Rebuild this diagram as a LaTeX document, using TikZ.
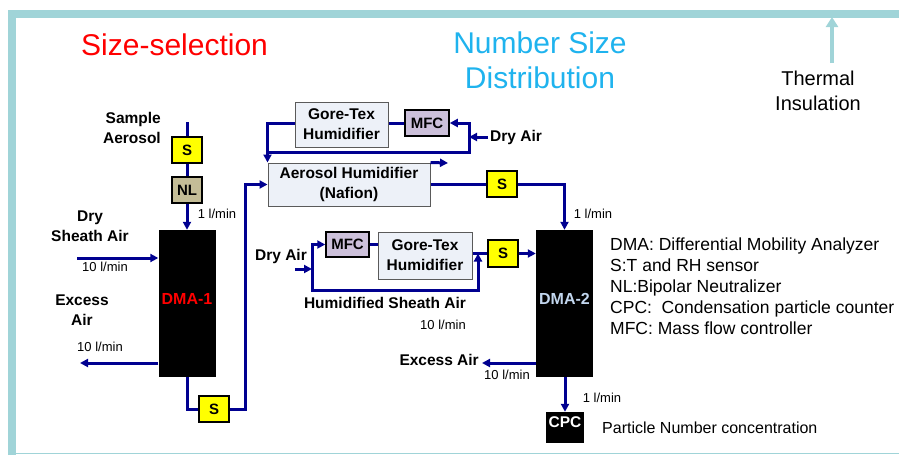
\documentclass[tikz,border=0pt]{standalone}
\usepackage{fontspec}
\setmainfont{Liberation Sans}
\usetikzlibrary{arrows.meta,positioning}
\definecolor{AeroNavy}{HTML}{000090}
\definecolor{AeroTeal}{HTML}{A0D4D8}
\definecolor{AeroYellow}{HTML}{FFFF00}
\definecolor{AeroTan}{HTML}{C4BD97}
\definecolor{AeroLilac}{HTML}{CCC0DA}
\definecolor{AeroPanel}{HTML}{EDF1F8}
\definecolor{AeroEdge}{HTML}{5A5A5A}
\definecolor{AeroRed}{HTML}{FF0000}
\definecolor{AeroSky}{HTML}{1FB3EE}
\definecolor{AeroPale}{HTML}{C2D6EE}
\tikzset{
  aero pipe/.style={draw=AeroNavy,line width=3pt},
  aero flow/.style={aero pipe,-{Triangle[length=8pt,width=8pt]}},
  aero insulation/.style={draw=AeroTeal,line width=4pt,-{Triangle[length=10pt,width=12pt]}},
  aero sensor/.style={
    draw=black,
    line width=1.5pt,
    fill=AeroYellow,
    minimum width=30pt,
    minimum height=26pt,
    inner sep=0pt,
    font=\fontsize{15}{17}\selectfont\bfseries
  },
  aero neutralizer/.style={aero sensor,fill=AeroTan},
  aero mfc/.style={aero sensor,fill=AeroLilac,minimum width=44pt},
  aero humidifier/.style={
    draw=AeroEdge,
    line width=1pt,
    fill=AeroPanel,
    align=center,
    inner sep=0pt,
    font=\fontsize{15.5}{20}\selectfont\bfseries
  },
  aero dma/.style={
    fill=black,
    minimum width=57pt,
    minimum height=147pt,
    inner sep=0pt,
    text height=12pt,
    text depth=10pt,
    font=\fontsize{16}{18}\selectfont\bfseries
  },
  aero cpc/.style={
    fill=black,
    text=white,
    minimum width=38pt,
    minimum height=31pt,
    inner sep=0pt,
    text height=11pt,
    text depth=11pt,
    font=\fontsize{15.5}{17}\selectfont\bfseries
  },
  aero tag/.style={inner sep=0pt,align=center,font=\fontsize{15.5}{20}\selectfont\bfseries},
  aero rate/.style={inner sep=0pt,font=\fontsize{13}{15}\selectfont},
  aero title/.style={inner sep=0pt,align=center,font=\fontsize{30}{35}\selectfont}
}

\begin{document}
\begin{tikzpicture}[x=1pt,y=-1pt]
  \useasboundingbox (0,0) rectangle (899,455);
  % frame
  \draw[AeroTeal,line width=8pt] (12,455) -- (12,13.5) -- (899,13.5);
  \draw[AeroTeal,line width=1.5pt] (8,453.5) -- (899,453.5);

  \node[aero title,text=AeroRed,anchor=west] (sizesel) at (81,45) {Size-selection};
  \node[aero title,text=AeroSky] (nsd) at (540,60) {Number Size\\Distribution};
  \node[inner sep=0pt,align=center,font=\fontsize{20}{25}\selectfont] (insul) at (818,91) {Thermal\\Insulation};
  \coordinate (insultail) at (832,63);
  \coordinate (insulhead) at (832,17);
  \draw[aero insulation] (insultail) -- (insulhead);

  % size-selection branch
  \node[aero tag,align=right,anchor=east] (sample) at (161,128) {Sample\\Aerosol};
  \node[aero sensor] (s1) at (187,150) {S};
  \node[aero neutralizer] (nl) at (187,190) {NL};
  \node[aero dma,text=AeroRed] (dma1) at (187,303.5) {DMA-1};
  \node[aero tag] (drysheath) at (90,226) {Dry\\Sheath Air};
  \node[aero tag] (excessa) at (82,310) {Excess\\Air};
  \node[aero sensor] (s2) at (214,409) {S};
  \node[aero rate] (r1) at (217,214) {1 l/min};
  \node[aero rate] (r2) at (105,267) {10 l/min};
  \node[aero rate] (r3) at (100,347) {10 l/min};

  \coordinate (samplein) at (187,122);
  \coordinate (sheathin) at (77,258);
  \coordinate (excess1) at (80,363);
  \coordinate (riser) at (245,410);
  \draw[aero pipe] (samplein) -- (s1);
  \draw[aero pipe] (s1) -- (nl);
  \draw[aero flow] (nl.south) -- (nl.south |- dma1.north);
  \draw[aero flow] (sheathin) -- (sheathin -| dma1.west);
  \draw[aero flow] (excess1 -| dma1.west) -- (excess1);
  \draw[aero pipe] (dma1.south) |- (s2.west);

  % humidifiers
  \node[aero humidifier,minimum width=162pt,minimum height=43pt] (ahum) at (349,184.5) {Aerosol Humidifier\\(Nafion)};
  \node[aero humidifier,minimum width=93pt,minimum height=45pt] (gtx1) at (341.5,124.5) {Gore-Tex\\Humidifier};
  \node[aero mfc] (mfc1) at (427,123) {MFC};
  \node[aero tag,anchor=west] (dryair1) at (490,137) {Dry Air};
  \node[aero sensor] (s3) at (502,184) {S};

  \coordinate (dry1in) at (488,137);
  \coordinate (dry1split) at (469,137);
  \coordinate (humjoin) at (268,152);
  \coordinate (purge) at (448,163);
  \draw[aero flow] (s2.east) -| (riser |- ahum.west) -- (ahum.west);
  \draw[aero flow] (dry1in) -- (dry1split);
  \draw[aero flow] (dry1split) |- (mfc1.east);
  \draw[aero pipe] (dry1split) |- (humjoin);
  \draw[aero pipe] (mfc1.west) -- (mfc1.west -| gtx1.east);
  \draw[aero flow] (gtx1.west |- mfc1.west) -| (ahum.north west);
  \draw[aero flow] (ahum.north east) -- (purge);
  \draw[aero pipe] (ahum.east |- s3) -- (s3);

  % classifier branch
  \node[aero dma,text=AeroPale] (dma2) at (564.5,303.5) {DMA-2};
  \node[aero humidifier,minimum width=94pt,minimum height=47pt] (gtx2) at (425,255.5) {Gore-Tex\\Humidifier};
  \node[aero mfc,minimum width=43pt,minimum height=25pt] (mfc2) at (347.5,244.5) {MFC};
  \node[aero sensor,minimum height=27pt] (s4) at (503,253.5) {S};
  \node[aero tag] (dryair2) at (281,256) {Dry Air};
  \node[aero tag] (hsheath) at (385,303) {Humidified Sheath Air};
  \node[aero tag,anchor=east] (excessb) at (479,360) {Excess Air};
  \node[aero cpc] (cpc) at (565,427.5) {CPC};
  \node[aero rate] (r4) at (593,214) {1 l/min};
  \node[aero rate] (r5) at (443,325) {10 l/min};
  \node[aero rate] (r6) at (507,375) {10 l/min};
  \node[aero rate] (r7) at (602,398) {1 l/min};

  \coordinate (dryin) at (295,269);
  \coordinate (drysplit) at (312,269);
  \coordinate (bypass) at (478,290);
  \coordinate (excess2) at (482,363);
  \draw[aero flow] (s3) -| (dma2.north);
  \draw[aero flow] (dryin) -- (drysplit);
  \draw[aero flow] (drysplit) |- (mfc2.west);
  \draw[aero pipe] (mfc2.east) -- (mfc2.east -| gtx2.west);
  \draw[aero flow] (drysplit) |- (bypass) -- (bypass |- s4.west);
  \draw[aero pipe] (gtx2.east |- s4) -- (s4);
  \draw[aero flow] (s4) -- (s4 -| dma2.west);
  \draw[aero flow] (excess2 -| dma2.west) -- (excess2);
  \draw[aero flow] (cpc |- dma2.south) -- (cpc.north);

  \node[inner sep=0pt,anchor=west,font=\fontsize{16}{18}\selectfont] (pnc) at (602,428) {Particle Number concentration};
  \node[inner sep=0pt,anchor=north west,align=left,font=\fontsize{17.5}{21}\selectfont] (legend) at (610,238) {
    DMA: Differential Mobility Analyzer\\
    S:T and RH sensor\\
    NL:Bipolar Neutralizer\\
    CPC:~~Condensation particle counter\\
    MFC: Mass flow controller
  };
\end{tikzpicture}
\end{document}
